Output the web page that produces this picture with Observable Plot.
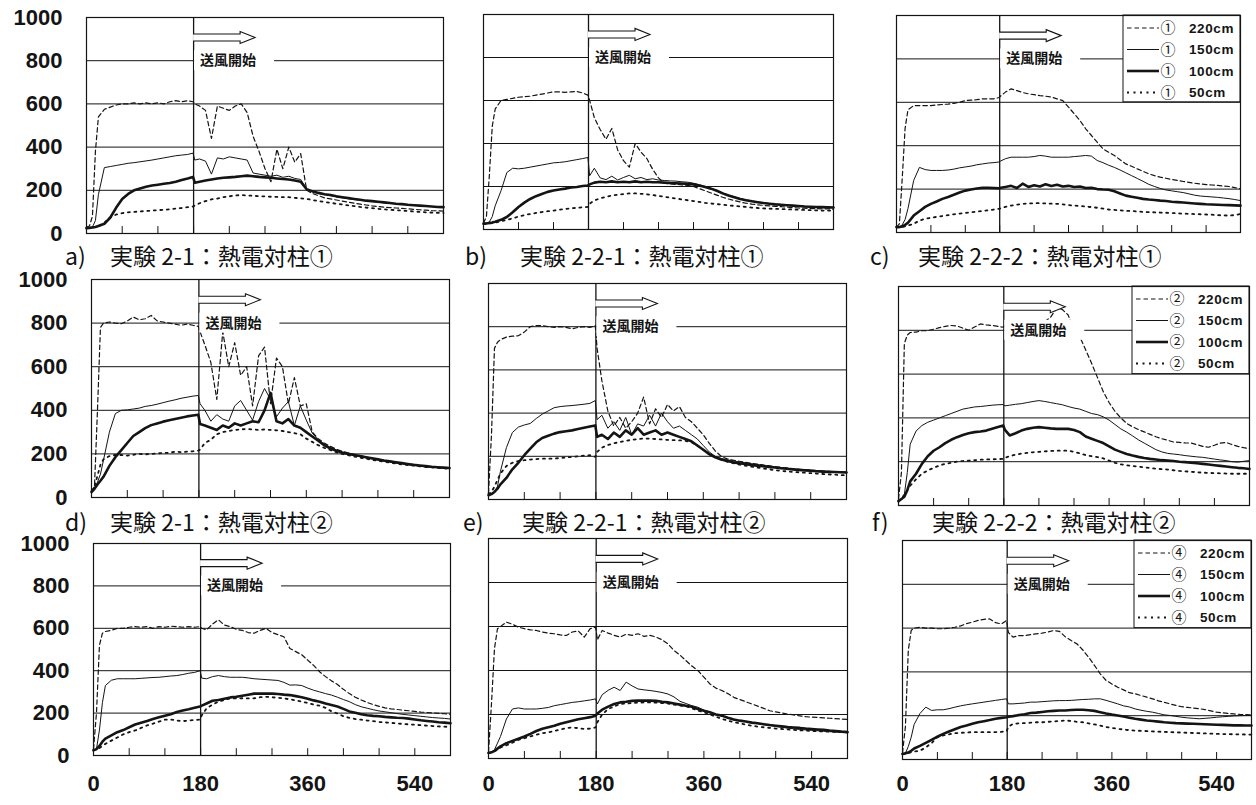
<!DOCTYPE html>
<html><head><meta charset="utf-8">
<script src="https://cdn.jsdelivr.net/npm/d3@7"></script>
<script src="https://cdn.jsdelivr.net/npm/@observablehq/plot@0.6"></script>
<style>
html,body{margin:0;padding:0;background:#fff;}
#root{position:relative;width:1256px;height:805px;overflow:hidden;background:#fff;}
.panel{position:absolute;}
.tag,.ttl{position:absolute;font-family:"Noto Sans CJK JP","Noto Sans";font-size:23px;line-height:24px;color:#111;white-space:pre;}
</style></head><body><div id="root"></div>
<script>
// ---------- data (minutes, °C) ----------
const TIME = [0,5,10,15,20,
 30,40,50,60,70,80,90,100,110,120,130,140,150,160,170,
 179,182,
 190,200,210,220,230,240,250,260,270,280,290,300,310,320,330,340,350,360,370,380,390,
 400,410,420,430,440,450,460,470,480,490,500,510,520,530,540,550,560,570,580,590,600];
const SERIES = ["220cm","150cm","100cm","50cm"];
const Y_LABELS = [0,200,400,600,800,1000];
const X_LABELS = [0,180,360,540];
const X_TICKS = [60,120,180,240,300,360,420,480,540];
const GRID_Y = [200,400,600,800];
const FAN_START = 180;
const FAN_LABEL = "送風開始";

// a) 実験2-1 熱電対柱①
const a220 = [30,35,80,380,540, 575,585,595,600,600,605,600,605,600,605,600,610,615,610,615, 610,600,
 590,570,440,590,580,570,590,600,560,450,380,300,240,390,300,400,330,370,200,185,175,
 165,160,155,150,145,140,136,132,128,125,122,120,118,116,114,112,110,108,106,105,104];
const a150 = [28,28,30,60,180, 305,310,315,320,325,328,332,336,340,345,350,355,360,363,366, 372,340,
 345,335,275,350,345,355,350,345,340,280,275,270,265,270,260,265,255,250,205,195,185,
 180,175,170,165,160,157,154,151,148,145,142,140,138,135,133,131,129,127,125,123,121];
const a100 = [25,26,28,30,35, 45,74,120,160,183,200,208,216,222,226,230,234,240,248,255, 262,235,
 240,245,250,255,258,260,262,265,268,265,262,260,258,255,252,250,245,240,205,195,188,
 182,178,172,168,164,160,156,152,150,147,144,141,138,136,133,131,129,127,125,123,122];
const a50 = [25,26,28,30,33, 50,75,88,94,98,100,102,104,106,108,110,112,115,118,122, 125,130,
 140,150,158,162,168,172,176,178,176,175,172,172,170,170,168,168,165,163,160,155,150,
 146,142,138,134,130,127,123,120,117,114,112,110,108,106,104,102,100,98,97,96,95];
// b) 実験2-2-1 熱電対柱①
const b220 = [30,60,250,480,560, 600,605,610,615,618,620,625,630,635,640,640,638,640,642,635, 625,600,
 520,465,420,470,370,320,290,400,360,330,280,240,215,212,210,208,205,200,190,180,170,
 160,150,142,135,128,122,118,115,112,110,108,106,104,102,100,99,98,97,96,96,95];
const b150 = [30,30,35,60,110, 180,265,285,282,285,290,295,300,305,310,312,315,320,325,330, 335,250,
 285,240,232,248,230,242,252,236,242,232,236,230,228,226,225,222,220,215,208,200,192,
 182,170,160,152,144,138,133,128,124,121,118,116,114,112,110,108,107,106,105,104,103];
const b100 = [28,28,30,32,36, 45,58,80,105,125,142,155,165,175,181,186,190,195,198,202, 205,210,
 218,222,220,224,220,222,220,224,220,222,220,220,218,216,215,214,212,210,205,198,190,
 180,168,158,150,142,136,131,127,123,120,117,115,113,111,109,107,106,105,104,103,102];
const b50 = [25,26,28,30,32, 38,45,52,60,67,72,77,81,85,88,92,95,98,101,103, 105,120,
 135,145,152,158,162,165,168,168,166,164,160,156,152,148,144,140,136,132,128,124,121,
 118,115,112,110,107,105,102,100,98,97,96,95,94,93,92,91,90,89,88,88,88];
// c) 実験2-2-2 熱電対柱①
const c220 = [25,40,250,480,565, 585,585,585,585,588,590,592,595,600,608,610,612,616,616,616, 622,630,
 647,662,654,645,639,635,631,628,624,616,608,578,547,516,478,447,416,386,370,355,335,
 316,305,293,282,270,262,255,250,244,240,235,231,227,224,221,219,217,214,212,207,201];
const c150 = [25,25,35,60,110, 240,300,290,286,286,286,288,292,298,302,306,312,316,320,322, 325,330,
 340,347,347,347,347,350,355,352,347,347,347,347,350,352,355,352,332,322,310,300,288,
 275,262,249,236,222,212,203,196,192,188,184,178,172,168,166,164,162,159,156,152,147];
const c100 = [25,25,28,35,45, 78,98,118,132,143,155,164,174,184,193,198,203,206,206,205, 204,206,
 210,215,205,225,210,218,212,222,214,220,212,215,210,212,205,206,200,198,197,190,180,
 170,165,160,155,152,150,147,145,142,140,138,136,134,132,130,129,128,127,126,125,124];
const c50 = [25,25,26,28,32, 40,55,63,68,72,76,80,84,87,90,93,96,99,102,106, 109,112,
 118,124,128,132,134,135,135,134,133,132,130,126,124,122,120,117,114,110,106,104,102,
 100,99,97,95,94,93,92,91,90,88,87,86,85,84,83,82,80,79,78,80,85];
// d) 実験2-1 熱電対柱②
const d220 = [30,50,400,780,800, 805,800,797,810,828,815,820,835,810,805,800,795,790,795,790, 785,760,
 700,620,450,760,600,710,560,600,420,650,690,430,640,600,430,550,420,430,300,270,250,
 235,222,212,205,198,192,186,180,175,170,165,160,156,152,148,145,142,140,138,136,134];
const d150 = [30,40,70,107,170, 300,385,400,402,406,410,418,422,428,435,442,448,455,460,465, 468,430,
 400,350,380,360,350,420,445,400,355,440,500,450,370,410,440,330,420,355,295,265,245,
 230,218,208,200,194,188,182,177,172,167,162,158,154,150,147,144,141,139,137,135,133];
const d100 = [25,40,60,77,95, 145,185,217,250,282,300,318,332,340,348,354,360,366,372,376, 380,337,
 330,320,310,330,320,340,330,340,350,345,400,480,350,340,360,330,320,300,280,260,240,
 225,215,206,200,195,190,185,180,175,170,166,162,158,154,150,147,144,141,139,137,135];
const d50 = [30,50,100,150,175, 190,195,195,192,196,200,198,200,202,205,205,210,208,210,212, 215,220,
 250,265,290,300,305,310,312,315,312,310,312,310,308,305,300,295,290,270,255,240,228,
 218,208,200,194,188,183,178,173,168,164,160,156,152,149,146,143,140,138,136,134,132];
// e) 実験2-2-1 熱電対柱②
const e220 = [30,300,700,728,740, 752,756,758,775,800,805,805,800,797,800,797,790,797,800,797, 805,700,
 550,410,340,380,330,360,400,474,350,420,380,440,410,430,380,360,330,300,260,225,200,
 188,182,177,172,168,164,160,156,152,149,146,143,140,138,136,134,132,130,128,127,126];
const e150 = [25,28,35,60,130, 240,310,335,345,352,375,395,410,425,430,433,435,438,441,445, 458,370,
 390,330,360,320,380,300,350,340,390,340,400,360,330,340,320,300,280,250,220,200,190,
 184,179,174,170,166,162,158,155,151,148,145,142,140,138,136,134,132,130,128,127,126];
const e100 = [20,25,35,50,70, 100,140,170,205,235,265,285,295,305,312,316,320,326,332,338, 343,290,
 300,280,310,290,320,300,330,300,310,320,300,310,300,290,280,270,250,230,210,195,185,
 178,172,168,164,160,157,154,151,148,145,142,139,137,135,133,131,129,128,127,126,125];
const e50 = [25,35,60,90,120, 155,170,178,182,185,187,189,189,189,192,195,197,200,203,205, 197,220,
 240,252,260,266,272,276,280,282,282,280,278,276,275,274,272,265,250,230,210,197,185,
 175,168,162,157,152,148,144,140,136,133,130,128,126,124,122,120,118,116,115,113,112];
// f) 実験2-2-2 熱電対柱②
const f220 = [30,150,740,778,790, 792,798,799,805,812,818,822,820,810,800,815,829,825,822,818, 814,820,
 820,830,835,840,835,840,840,860,900,895,870,800,770,710,650,585,520,470,430,400,375,
 360,347,336,325,314,305,298,290,288,286,285,278,270,266,275,285,288,278,270,264,260];
const f150 = [25,28,50,150,280, 340,365,380,390,400,410,420,430,440,445,450,452,455,458,460, 461,455,
 458,462,465,470,475,479,475,470,465,460,452,445,440,430,420,415,405,390,370,350,335,
 318,300,285,270,255,245,238,235,232,228,225,222,220,216,212,208,205,200,198,202,205];
const f100 = [20,30,40,70,110, 145,190,225,250,266,285,300,312,322,330,335,338,342,350,358, 365,345,
 320,330,342,350,355,358,355,352,350,350,350,345,335,315,305,295,285,270,255,245,235,
 228,222,217,213,210,207,205,203,200,198,195,193,190,187,184,181,178,175,172,170,167];
const f50 = [20,30,50,70,90, 120,145,160,172,183,190,195,200,203,205,207,209,210,211,212, 213,218,
 225,232,237,240,243,245,247,249,250,251,250,245,238,230,225,221,215,205,195,188,184,
 180,177,174,171,168,166,164,161,158,156,154,152,150,149,148,147,146,145,145,145,145];
// g) 熱電対柱④ (実験2-1)
const g220 = [30,200,520,577,585, 590,600,600,605,608,605,608,600,608,605,610,608,605,608,605, 608,600,
 592,620,640,615,608,595,590,580,577,590,600,580,570,560,505,490,475,450,425,395,372,
 352,335,312,292,275,262,250,240,232,225,220,217,214,211,208,205,203,201,199,197,195];
const g150 = [25,30,120,250,330, 355,362,362,362,362,364,366,368,369,372,375,377,382,388,392, 400,365,
 362,372,377,372,369,369,369,366,362,360,358,356,354,345,332,333,330,318,308,300,292,
 285,275,264,254,240,230,223,216,210,206,202,198,194,191,188,185,182,179,177,175,172];
const g100 = [25,30,45,65,80, 95,110,120,133,146,155,163,172,180,188,195,205,212,218,225, 231,235,
 245,258,262,268,274,277,282,287,292,292,292,292,290,287,285,280,275,268,260,254,245,
 238,231,220,208,202,195,190,187,185,182,180,178,177,174,170,166,163,160,157,155,152];
const g50 = [25,28,35,45,55, 70,85,100,110,118,130,142,150,160,169,170,165,162,165,168, 169,190,
 222,240,254,262,269,269,270,269,270,275,277,275,272,269,265,260,254,248,240,235,225,
 208,198,185,178,172,169,165,162,158,156,154,151,149,147,145,143,141,139,137,136,135];
// h) 熱電対柱④ (実験2-2-1)
const h220 = [30,250,500,590,600, 620,610,597,590,585,582,575,570,567,562,559,575,580,552,590, 597,540,
 582,570,560,552,565,560,567,555,560,552,540,521,491,470,445,420,400,370,339,320,309,
 295,278,268,258,248,238,228,217,212,207,202,198,194,190,188,187,185,183,181,179,178];
const h150 = [25,28,40,70,100, 180,225,230,225,225,225,228,232,240,245,250,255,258,262,266, 271,248,
 290,310,324,309,347,330,316,312,309,305,300,293,280,260,250,240,233,220,210,200,195,
 185,175,172,168,162,158,154,150,146,142,138,135,132,130,128,126,124,122,120,119,118];
const h100 = [25,28,35,45,55, 70,80,90,100,112,125,135,142,149,158,165,172,178,183,188, 194,205,
 222,236,248,255,258,262,263,263,263,262,258,255,250,245,240,235,225,217,210,200,195,
 185,177,172,168,163,160,156,152,149,146,143,141,139,136,134,132,130,127,125,122,120];
const h50 = [25,28,32,40,50, 60,72,85,92,100,108,115,119,125,132,138,141,138,134,136, 141,165,
 200,225,236,248,250,252,254,255,255,254,252,250,245,240,238,228,218,210,200,190,180,
 172,165,160,154,149,145,142,139,136,134,132,130,128,127,125,124,123,122,121,120,119];
// i) 熱電対柱④ (実験2-2-2)
const i220 = [30,150,500,590,600, 604,600,600,597,597,600,604,610,620,627,635,640,642,625,619, 635,580,
 559,566,566,570,574,577,582,589,585,560,543,528,500,467,430,391,361,345,330,318,305,
 300,292,285,277,268,261,254,247,241,238,235,232,228,222,216,213,210,208,206,205,204];
const i150 = [25,28,60,102,160, 210,239,224,227,227,232,239,245,250,254,258,262,266,270,274, 277,254,
 254,256,258,262,262,264,266,268,269,269,270,272,274,275,277,277,270,262,254,245,240,
 231,225,220,216,210,204,201,197,193,190,188,186,188,190,193,195,197,199,200,201,201];
const i100 = [25,28,32,40,50, 62,76,90,104,117,128,138,148,155,163,170,175,180,186,190, 193,195,
 198,203,207,212,214,217,220,222,224,224,226,227,227,225,222,216,210,205,201,196,191,
 186,182,178,176,173,170,168,166,165,164,163,162,161,160,159,158,157,156,156,155,155];
const i50 = [25,27,30,33,36, 40,55,75,102,110,115,120,122,123,125,125,125,125,125,126, 129,150,
 163,165,166,168,170,170,172,174,176,178,176,172,170,165,160,155,148,144,140,137,134,
 132,131,130,128,127,126,125,124,123,122,121,120,119,118,117,116,116,115,115,114,114];

const TITLES = [
  {tag:"a)", text:"実験 2-1：熱電対柱①"},
  {tag:"b)", text:"実験 2-2-1：熱電対柱①"},
  {tag:"c)", text:"実験 2-2-2：熱電対柱①"},
  {tag:"d)", text:"実験 2-1：熱電対柱②"},
  {tag:"e)", text:"実験 2-2-1：熱電対柱②"},
  {tag:"f)", text:"実験 2-2-2：熱電対柱②"}
];
const PILLARS = ["①","②","④"];

// ---------- layout & styles ----------
const PANELS = [
  {series:[a220,a150,a100,a50], frame:[86,17,443,233],  row:0,col:0},
  {series:[b220,b150,b100,b50], frame:[483,14,833,229], row:0,col:1},
  {series:[c220,c150,c100,c50], frame:[896,15,1240,232],row:0,col:2},
  {series:[d220,d150,d100,d50], frame:[91,279,449,497], row:1,col:0},
  {series:[e220,e150,e100,e50], frame:[488,283,846,499],row:1,col:1},
  {series:[f220,f150,f100,f50], frame:[898,286,1249,505],row:1,col:2},
  {series:[g220,g150,g100,g50], frame:[93,543,450,755], row:2,col:0},
  {series:[h220,h150,h100,h50], frame:[488,538,847,758],row:2,col:1},
  {series:[i220,i150,i100,i50], frame:[902,540,1251,759],row:2,col:2}
];
const TITLE_POS = [
  {tagX:65, textX:110, y:243}, {tagX:465, textX:520, y:243}, {tagX:870, textX:918, y:243},
  {tagX:65, textX:110, y:509}, {tagX:463, textX:522, y:509}, {tagX:872, textX:932, y:509}
];
const STYLE = {
  "220cm": {w:1.2, dash:"4.5,3"},
  "150cm": {w:1.0, dash:null},
  "100cm": {w:2.6, dash:null},
  "50cm":  {w:1.8, dash:"2,4.5"}
};
const INK = "#141414";

function fanMark(index, scales, values, dims) {
  const x0 = scales.x(FAN_START), yl = scales.y(800), ya = scales.y(905);
  const g = d3.create("svg:g");
  g.append("rect").attr("x", x0 + 1).attr("y", yl - 10).attr("width", 80).attr("height", 20).attr("fill", "#fff");
  g.append("text").attr("x", x0 + 7).attr("y", yl).attr("dy", "0.36em").attr("text-anchor", "start")
    .attr("font-family", "'Noto Sans CJK JP'").attr("font-weight", "bold").attr("font-size", 14)
    .attr("fill", INK).text(FAN_LABEL);
  const L = 47, h = 3.5, H = 6, head = 15;
  g.append("path")
    .attr("d", `M${x0},${ya-h}H${x0+L}V${ya-H}L${x0+L+head},${ya}L${x0+L},${ya+H}V${ya+h}H${x0}`)
    .attr("fill", "#fff").attr("stroke", INK).attr("stroke-width", 1.1);
  return g.node();
}

function legendMark(pillar) {
  return (index, scales, values, dims) => {
    const right = dims.width - dims.marginRight, top = dims.marginTop, bottom = scales.y(600);
    const left = right - 117;
    const g = d3.create("svg:g");
    g.append("rect").attr("x", left).attr("y", top).attr("width", right - left).attr("height", bottom - top)
      .attr("fill", "#fff").attr("stroke", INK).attr("stroke-width", 1);
    SERIES.forEach((s, k) => {
      const y = top + 13 + k * 21.5;
      const st = STYLE[s];
      const ln = g.append("line").attr("x1", left + 4).attr("x2", left + 36).attr("y1", y).attr("y2", y)
        .attr("stroke", INK).attr("stroke-width", st.w + (k === 3 ? 0.2 : 0));
      if (st.dash) ln.attr("stroke-dasharray", st.dash);
      g.append("text").attr("x", left + 45).attr("y", y).attr("dy", "0.36em").attr("text-anchor", "middle")
        .attr("font-family", "'Noto Sans CJK JP'").attr("font-size", 15).attr("fill", INK).text(pillar);
      g.append("text").attr("x", left + 66).attr("y", y).attr("dy", "0.36em").attr("text-anchor", "start")
        .attr("font-family", "'Liberation Sans'").attr("font-weight", "bold").attr("font-size", 13.5)
        .attr("letter-spacing", "0.6").attr("fill", INK).text(s);
    });
    return g.node();
  };
}

const root = document.getElementById("root");

PANELS.forEach((p, idx) => {
  const [L, T, R, B] = p.frame;
  const isLeft = p.col === 0, isBottom = p.row === 2;
  const mL = isLeft ? 92 : 3, mR = 3, mT = isLeft ? 16 : 3, mB = isBottom ? 50 : (isLeft ? 16 : 3);
  const marks = [
    Plot.ruleY(GRID_Y, {stroke: INK, strokeWidth: 1}),
    Plot.ruleX([FAN_START], {stroke: INK, strokeWidth: 1.3}),
    Plot.ruleX(X_TICKS, {y1: 0, y2: 32, stroke: INK, strokeWidth: 1})
  ];
  SERIES.forEach((s, k) => {
    const arr = p.series[k];
    if (arr.length !== TIME.length) console.error("length mismatch", idx, s, arr.length);
    const rows = TIME.map((t, i) => ({t, v: arr[i]}));
    const st = STYLE[s];
    const opt = {x: "t", y: "v", stroke: INK, strokeWidth: st.w, strokeLinejoin: "round"};
    if (st.dash) opt.strokeDasharray = st.dash;
    marks.push(Plot.line(rows, opt));
  });
  marks.push(fanMark);
  if (p.col === 2) marks.push(legendMark(PILLARS[p.row]));
  marks.push(Plot.frame({stroke: INK, strokeWidth: 1.2}));
  if (isLeft) marks.push(Plot.axisY(Y_LABELS, {anchor: "left", tickSize: 0, tickPadding: 24, fontSize: 22,
    fontWeight: "bold", fontFamily: "Liberation Sans", fill: INK, tickFormat: d => String(d), label: null}));
  if (isBottom) marks.push(Plot.axisX(X_LABELS, {anchor: "bottom", tickSize: 0, tickPadding: 775 - B, fontSize: 22,
    fontWeight: "bold", fontFamily: "Liberation Sans", fill: INK, tickFormat: d => String(d), label: null}));
  const svg = Plot.plot({
    width: R - L + mL + mR, height: B - T + mT + mB,
    marginLeft: mL, marginRight: mR, marginTop: mT, marginBottom: mB,
    x: isBottom ? {domain: [0, 600]} : {domain: [0, 600], axis: null},
    y: isLeft ? {domain: [0, 1000]} : {domain: [0, 1000], axis: null},
    style: {background: "transparent", overflow: "visible", fontFamily: "Liberation Sans"},
    marks
  });
  const div = document.createElement("div");
  div.className = "panel";
  div.style.left = (L - mL) + "px";
  div.style.top = (T - mT) + "px";
  div.appendChild(svg);
  root.appendChild(div);
});

TITLES.forEach((t, i) => {
  const pos = TITLE_POS[i];
  const a = document.createElement("div");
  a.className = "tag"; a.style.left = pos.tagX + "px"; a.style.top = pos.y + "px"; a.textContent = t.tag;
  const b = document.createElement("div");
  b.className = "ttl"; b.style.left = pos.textX + "px"; b.style.top = pos.y + "px"; b.textContent = t.text;
  root.appendChild(a); root.appendChild(b);
});
</script>
</body></html>
